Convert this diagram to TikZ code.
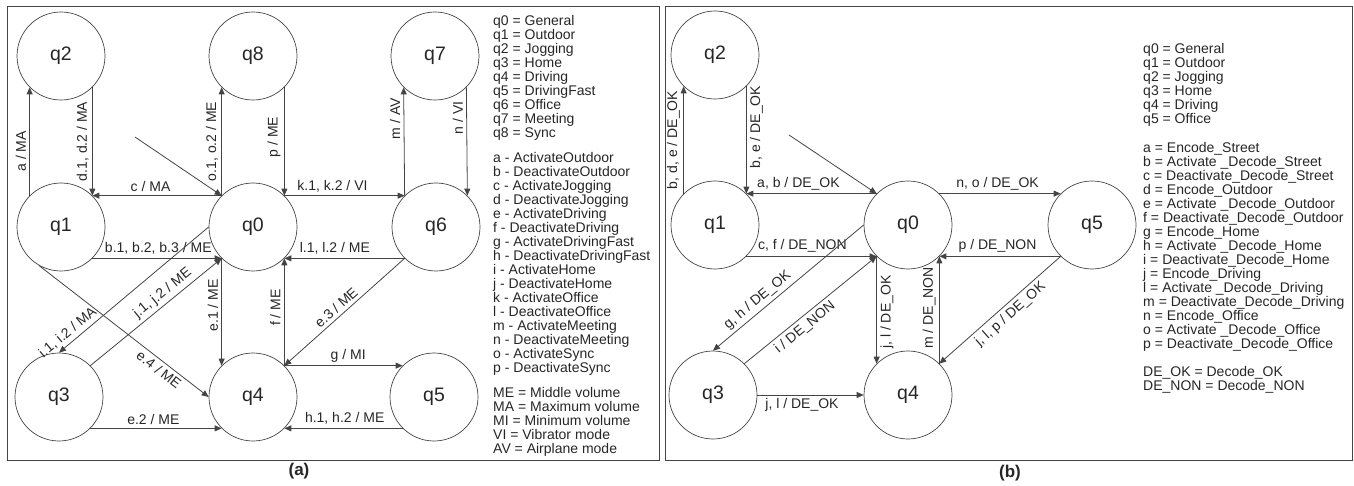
\documentclass[tikz,border=0pt]{standalone}
\usepackage{fontspec}
\setmainfont{Liberation Sans}
\usepackage{tikz}
\usetikzlibrary{arrows.meta,calc}

\definecolor{linegray}{HTML}{444444}

\begin{document}
\begin{tikzpicture}[x=1pt,y=-1pt,
    statenode/.style={draw=linegray,line width=0.7pt,circle,minimum size=88pt,inner sep=0pt,
        text=black!85,font=\fontsize{19.5}{20}\selectfont},
    trans/.style={draw=linegray,line width=0.8pt,-{Triangle[length=7pt,width=6pt]}},
    lbl/.style={text=black!85,font=\fontsize{14}{14}\selectfont},
    vlbl/.style={lbl,rotate=90},
    caption/.style={text=black!85,font=\bfseries\fontsize{17}{17}\selectfont}]
    \useasboundingbox (0,0) rectangle (1354,486);

    \draw[linegray,line width=0.8pt] (7,6) rectangle (659,460);
    \draw[linegray,line width=0.8pt] (665,6) rectangle (1352,460);

    % (a)
    \node (A2) [statenode] at (61,56) {q2};
    \node (A8) [statenode] at (253,56) {q8};
    \node (A7) [statenode] at (435,56) {q7};
    \node (A1) [statenode] at (61,227) {q1};
    \node (A0) [statenode] at (253,227) {q0};
    \node (A6) [statenode] at (436,227) {q6};
    \node (A3) [statenode] at (59,397) {q3};
    \node (A4) [statenode] at (253,397) {q4};
    \node (A5) [statenode] at (434,397) {q5};

    \coordinate (ina) at (135,137);
    \draw[trans] (ina) -- (A0.135);

    \draw[trans] (A1.135) -- node[vlbl,above,pos=0.41] {a / MA} (A2.-135);
    \draw[trans] (A2.-45) -- node[vlbl,above] {d.1, d.2 / MA} (A1.45);
    \draw[trans] (A0.135) -- node[lbl,above,pos=0.55] {c / MA} (A1.45);
    \draw[trans] (A0.135) -- node[vlbl,above] {o.1, o.2 / ME} (A8.-135);
    \draw[trans] (A8.-45) -- node[vlbl,above,pos=0.46] {p / ME} (A0.45);
    \draw[trans] (A0.45) -- node[lbl,above,pos=0.4] {k.1, k.2 / VI} (A6.135);
    \draw[trans] (A6.135) -- node[vlbl,above,pos=0.71] {m / AV} (A7.-135);
    \draw[trans] (A7.-45) -- node[vlbl,above,pos=0.28] {n / VI} (A6.45);
    \draw[trans] (A1.-45) -- node[lbl,above,pos=0.51] {b.1, b.2, b.3 / ME} (A0.-135);
    \draw[trans] (A6.-135) -- node[lbl,above,pos=0.58] {l.1, l.2 / ME} (A0.-45);
    \draw[trans] (A0.west) -- node[lbl,above,sloped,pos=0.9] {i.1, i.2 / MA} (A3.north);
    \draw[trans] (A3.45) -- node[lbl,above,sloped,pos=0.6] {j.1, j.2 / ME} (A0.-135);
    \draw[trans] (A1.-120) -- node[lbl,below,sloped,pos=0.74] {e.4 / ME} (A4.west);
    \draw[trans] (A0.-135) -- node[vlbl,above,pos=0.44] {e.1 / ME} (A4.135);
    \draw[trans] (A4.45) -- node[vlbl,above,pos=0.54] {f / ME} (A0.-45);
    \draw[trans] (A6.-135) -- node[lbl,above,sloped,pos=0.52] {e.3 / ME} (A4.45);
    \draw[trans] (A4.45) -- node[lbl,above,pos=0.54] {g / MI} (A5.135);
    \draw[trans] (A3.-45) -- node[lbl,above,pos=0.48] {e.2 / ME} (A4.-135);
    \draw[trans] (A5.-135) -- node[lbl,above,pos=0.49] {h.1, h.2 / ME} (A4.-45);

    \node (LA) [lbl,align=left,anchor=north west,inner sep=0pt] at (493,15) {q0 = General\\
        q1 = Outdoor\\ q2 = Jogging\\ q3 = Home\\ q4 = Driving\\ q5 = DrivingFast\\
        q6 = Office\\ q7 = Meeting\\ q8 = Sync\\[11pt]
        a - ActivateOutdoor\\ b - DeactivateOutdoor\\ c - ActivateJogging\\
        d - DeactivateJogging\\ e - ActivateDriving\\ f - DeactivateDriving\\
        g - ActivateDrivingFast\\ h - DeactivateDrivingFast\\ i - ActivateHome\\
        j - DeactivateHome\\ k - ActivateOffice\\ l - DeactivateOffice\\
        m - ActivateMeeting\\ n - DeactivateMeeting\\ o - ActivateSync\\
        p - DeactivateSync\\[11pt]
        ME = Middle volume\\ MA = Maximum volume\\ MI = Minimum volume\\
        VI = Vibrator mode\\ AV = Airplane mode};
    \node (CA) [caption] at (299,471) {(a)};

    % (b)
    \node (B2) [statenode] at (715,55) {q2};
    \node (B1) [statenode] at (715,225) {q1};
    \node (B0) [statenode] at (908,225) {q0};
    \node (B5) [statenode] at (1092,225) {q5};
    \node (B3) [statenode] at (713,395) {q3};
    \node (B4) [statenode] at (908,395) {q4};

    \coordinate (inb) at (789,135);
    \draw[trans] (inb) -- (B0.135);

    \draw[trans] (B1.135) -- node[vlbl,above] {b, d, e / DE\_OK} (B2.-135);
    \draw[trans] (B2.-45) -- node[vlbl,below,pos=0.38] {b, e / DE\_OK} (B1.45);
    \draw[trans] (B0.135) -- node[lbl,above,pos=0.6] {a, b / DE\_OK} (B1.45);
    \draw[trans] (B0.45) -- node[lbl,above,pos=0.48] {n, o / DE\_OK} (B5.135);
    \draw[trans] (B1.-45) -- node[lbl,above,pos=0.43] {c, f / DE\_NON} (B0.-135);
    \draw[trans] (B5.-135) -- node[lbl,above,pos=0.52] {p / DE\_NON} (B0.-45);
    \draw[trans] (B0.west) -- node[lbl,above,sloped,pos=0.66] {g, h / DE\_OK} (B3.north);
    \draw[trans] (B3.45) -- node[lbl,below,sloped,pos=0.41] {i / DE\_NON} (B0.-135);
    \draw[trans] (B0.-135) -- node[vlbl,below,pos=0.52] {j, l / DE\_OK} (B4.135);
    \draw[trans] (B4.45) -- node[vlbl,above,pos=0.52] {m / DE\_NON} (B0.-45);
    \draw[trans] (B5.-135) -- node[lbl,below,sloped,pos=0.47] {j, l, p / DE\_OK} (B4.45);
    \draw[trans] (B3.east) -- node[lbl,below,pos=0.42] {j, l / DE\_OK} (B4.west);

    \node (LB) [lbl,align=left,anchor=north west,inner sep=0pt] at (1143,43) {q0 = General\\
        q1 = Outdoor\\ q2 = Jogging\\ q3 = Home\\ q4 = Driving\\ q5 = Office\\[15pt]
        a = Encode\_Street\\ b = Activate \_Decode\_Street\\ c = Deactivate\_Decode\_Street\\
        d = Encode\_Outdoor\\ e = Activate \_Decode\_Outdoor\\ f = Deactivate\_Decode\_Outdoor\\
        g = Encode\_Home\\ h = Activate \_Decode\_Home\\ i = Deactivate\_Decode\_Home\\
        j = Encode\_Driving\\ l = Activate \_Decode\_Driving\\ m = Deactivate\_Decode\_Driving\\
        n = Encode\_Office\\ o = Activate \_Decode\_Office\\ p = Deactivate\_Decode\_Office\\[14pt]
        DE\_OK = Decode\_OK\\ DE\_NON = Decode\_NON};
    \node (CB) [caption] at (1010,473) {(b)};
\end{tikzpicture}
\end{document}
